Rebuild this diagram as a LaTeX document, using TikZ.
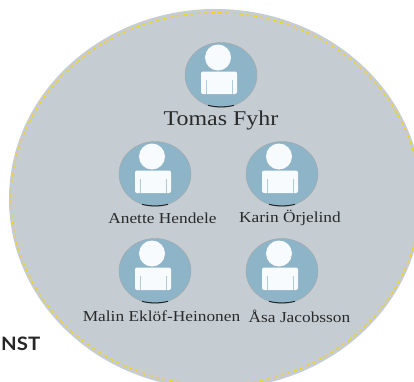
\documentclass[tikz,border=0pt]{standalone}
\usepackage{fontspec}
\setmainfont{Liberation Serif}
\newfontfamily\namefont[FakeStretch=1.14]{Liberation Serif}
\newfontfamily\nstfont[FakeStretch=1.1]{Lato}
\definecolor{discfill}{HTML}{C5CDD3}
\definecolor{dashgold}{HTML}{F7D21A}
\definecolor{avatarblue}{HTML}{8EB4C8}
\definecolor{bodywhite}{HTML}{F7FBFD}
\definecolor{inktext}{HTML}{2A2A2A}
\tikzset{
  px/.style={x=1bp,y=-1bp},
  lab/.style={text=inktext,inner sep=0pt,anchor=center},
  smalllab/.style={lab,font=\namefont\fontsize{15.2bp}{17bp}\selectfont},
  pic avatar/.pic={
    \fill[avatarblue] (0,0) ellipse [x radius=36,y radius=32.5];
    \draw[gray!70,line width=.4bp] (0,0) ellipse [x radius=36,y radius=32.5];
    \draw[black!85,line width=1bp] (-13,30.3) .. controls (-5,32.4) and (5,32.4) .. (13,30.3);
    \fill[bodywhite] (-3,-17.5) circle [radius=13];
    \fill[bodywhite,rounded corners=2bp] (-20,19) -- (-20,-3.5) -- (16,-3.5) -- (16,19) -- cycle;
    \draw[avatarblue!70!white,line width=.6bp] (-15,19) -- (-15,5);
    \draw[avatarblue!70!white,line width=.6bp] (11,19) -- (11,5);
  }
}
\begin{document}
\begin{tikzpicture}[px]
\useasboundingbox (0,0) rectangle (414,382);
\begin{scope}
\clip (0,0) rectangle (414,382);
\fill[discfill] (215.5,199) ellipse [x radius=206.5,y radius=190];
\draw[dashgold,line width=1.1bp,dash pattern=on 4bp off 3bp] (215.5,199) ellipse [x radius=204.5,y radius=186.3];
\end{scope}
\pic at (221,75) {pic avatar};
\pic at (155,174) {pic avatar};
\pic at (282,174) {pic avatar};
\pic at (155,271) {pic avatar};
\pic at (282,271) {pic avatar};
\node[lab,font=\namefont\fontsize{21bp}{23bp}\selectfont] (tomas) at (221,120.5) {Tomas Fyhr};
\node[smalllab] (anette) at (162.5,218) {Anette Hendele};
\node[smalllab] (karin) at (290,218) {Karin Örjelind};
\node[smalllab] (malin) at (161.5,316.5) {Malin Eklöf-Heinonen};
\node[smalllab] (asa) at (299.5,316) {Åsa Jacobsson};
\node[text=black!85,inner sep=0pt,anchor=west,font=\nstfont\bfseries\fontsize{18.5bp}{20bp}\selectfont] (nst) at (1,344) {NST};
\end{tikzpicture}
\end{document}
